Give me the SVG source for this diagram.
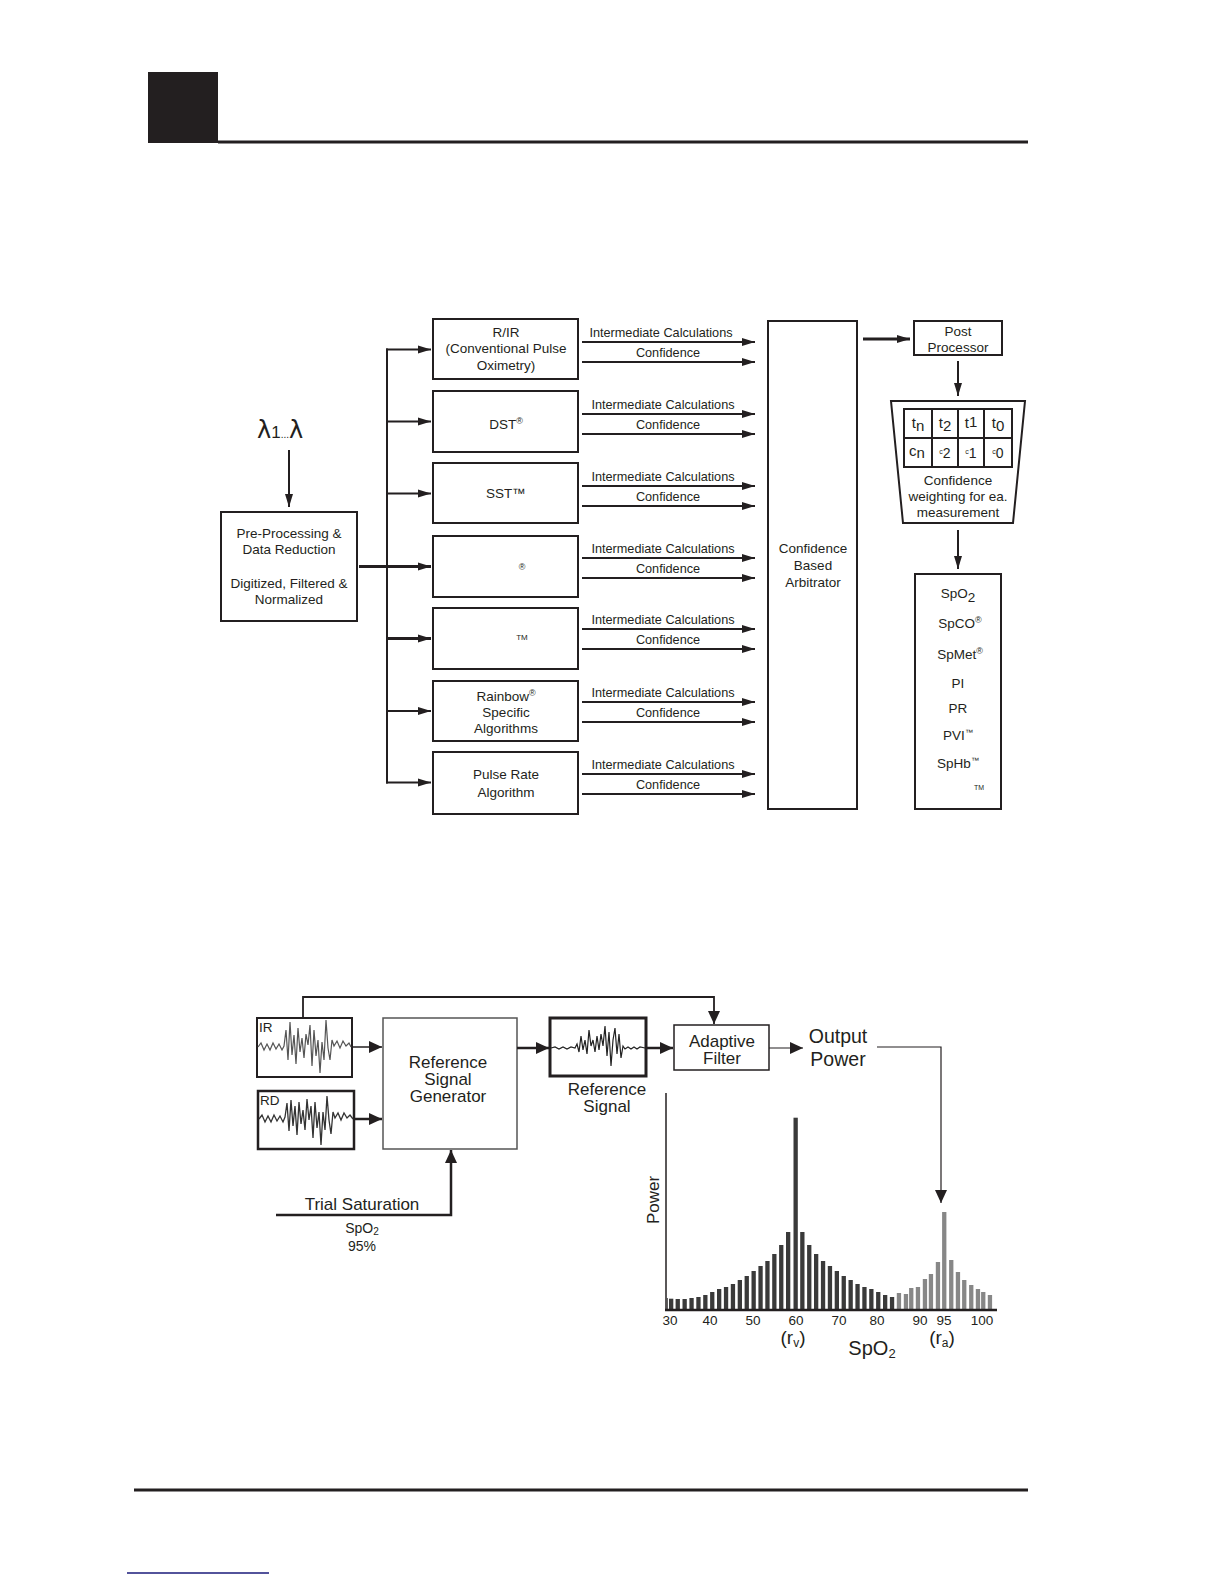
<svg xmlns="http://www.w3.org/2000/svg" width="1224" height="1584" viewBox="0 0 1224 1584">
<style>
text{font-family:"Liberation Sans",Arial,sans-serif;fill:#231f20}
.t{font-size:13.5px;text-anchor:middle}
.s{font-size:12.7px;text-anchor:middle}
.b{font-size:17px;text-anchor:middle}
.ax{font-size:13.5px;text-anchor:middle}
.box{fill:#fff;stroke:#231f20;stroke-width:2}
.ln{fill:none;stroke:#231f20;stroke-width:2}
.thk{fill:none;stroke:#231f20;stroke-width:3}
.dk{fill:#3a3a3a}
.lt{fill:#878787}
.wv{fill:none;stroke:#555;stroke-width:1.2}
</style>
<defs>
<marker id="ah" markerUnits="userSpaceOnUse" markerWidth="14" markerHeight="10" refX="13" refY="5" orient="auto"><path d="M0,1 L13,5 L0,9 z" fill="#231f20"/></marker>
<marker id="ab" markerUnits="userSpaceOnUse" markerWidth="14" markerHeight="12" refX="13" refY="6" orient="auto"><path d="M0,0 L13,6 L0,12 z" fill="#231f20"/></marker>
</defs>

<!-- page header/footer -->
<g id="page">
<rect x="148" y="72" width="70" height="71" fill="#231f20"/>
<line x1="218" y1="142" x2="1028" y2="142" stroke="#231f20" stroke-width="3"/>
<line x1="134" y1="1490" x2="1028" y2="1490" stroke="#231f20" stroke-width="3"/>
<line x1="127" y1="1573" x2="269" y2="1573" stroke="#1a1a7a" stroke-width="1.5"/>
</g>

<!-- ===== Top diagram nodes ===== -->
<g id="lambda"><text x="257" y="438" style="font-size:24px;font-family:'DejaVu Sans',sans-serif">λ<tspan style="font-size:17px;font-family:'Liberation Sans',sans-serif">1</tspan><tspan style="font-size:10px;font-family:'Liberation Sans',sans-serif">...</tspan>λ</text></g>

<g id="preproc">
<rect class="box" x="221" y="512" width="136" height="109"/>
<text class="t" x="289" y="538">Pre-Processing &amp;</text>
<text class="t" x="289" y="554">Data Reduction</text>
<text class="t" x="289" y="588">Digitized, Filtered &amp;</text>
<text class="t" x="289" y="604">Normalized</text>
</g>

<g id="rir">
<rect class="box" x="433" y="319" width="145" height="60"/>
<text class="t" x="506" y="337">R/IR</text>
<text class="t" x="506" y="353">(Conventional Pulse</text>
<text class="t" x="506" y="370">Oximetry)</text>
</g>
<g id="dst">
<rect class="box" x="433" y="391" width="145" height="61"/>
<text class="t" x="506" y="429">DST<tspan style="font-size:9px" dy="-5">®</tspan></text>
</g>
<g id="sst">
<rect class="box" x="433" y="463" width="145" height="60"/>
<text class="t" x="506" y="498">SST™</text>
</g>
<g id="alg4">
<rect class="box" x="433" y="536" width="145" height="61"/>
<text x="522" y="570" style="font-size:9px;text-anchor:middle">®</text>
</g>
<g id="alg5">
<rect class="box" x="433" y="608" width="145" height="61"/>
<text x="522" y="640" style="font-size:8px;text-anchor:middle">TM</text>
</g>
<g id="rainbow">
<rect class="box" x="433" y="681" width="145" height="60"/>
<text class="t" x="506" y="701">Rainbow<tspan style="font-size:9px" dy="-5">®</tspan></text>
<text class="t" x="506" y="717">Specific</text>
<text class="t" x="506" y="733">Algorithms</text>
</g>
<g id="pulserate">
<rect class="box" x="433" y="752" width="145" height="62"/>
<text class="t" x="506" y="779">Pulse Rate</text>
<text class="t" x="506" y="797">Algorithm</text>
</g>

<g id="arbitrator">
<rect class="box" x="768" y="321" width="89" height="488"/>
<text class="t" x="813" y="553">Confidence</text>
<text class="t" x="813" y="570">Based</text>
<text class="t" x="813" y="587">Arbitrator</text>
</g>

<g id="postproc">
<rect class="box" x="914" y="321" width="88" height="34"/>
<text class="t" x="958" y="336">Post</text>
<text class="t" x="958" y="352">Processor</text>
</g>

<g id="weighting">
<path d="M891,401 L1025,401 L1013,523 L903,523 Z" class="box"/>
<rect x="904" y="409" width="108" height="58" fill="none" stroke="#231f20" stroke-width="2"/>
<line x1="932" y1="409" x2="932" y2="467" class="ln"/>
<line x1="958" y1="409" x2="958" y2="467" class="ln"/>
<line x1="984" y1="409" x2="984" y2="467" class="ln"/>
<line x1="904" y1="438" x2="1012" y2="438" class="ln"/>
<text x="918" y="428" style="font-size:15px;text-anchor:middle">t<tspan dy="3">n</tspan></text>
<text x="945" y="428" style="font-size:15px;text-anchor:middle">t<tspan dy="3">2</tspan></text>
<text x="971" y="428" style="font-size:15px;text-anchor:middle">t<tspan dy="-1">1</tspan></text>
<text x="998" y="428" style="font-size:15px;text-anchor:middle">t<tspan dy="3">0</tspan></text>
<text x="917" y="456" style="font-size:15px;text-anchor:middle">c<tspan dy="2">n</tspan></text>
<text x="945" y="458" style="font-size:14px;text-anchor:middle"><tspan style="font-size:7px" dy="-4">c</tspan><tspan dy="4">2</tspan></text>
<text x="971" y="458" style="font-size:14px;text-anchor:middle"><tspan style="font-size:7px" dy="-4">c</tspan><tspan dy="4">1</tspan></text>
<text x="998" y="458" style="font-size:14px;text-anchor:middle"><tspan style="font-size:7px" dy="-4">c</tspan><tspan dy="4">0</tspan></text>
<text class="t" x="958" y="485">Confidence</text>
<text class="t" x="958" y="501">weighting for ea.</text>
<text class="t" x="958" y="517">measurement</text>
</g>

<g id="outputs">
<rect class="box" x="915" y="574" width="86" height="235"/>
<text class="t" x="958" y="598">SpO<tspan dy="4">2</tspan></text>
<text class="t" x="960" y="628">SpCO<tspan style="font-size:9px" dy="-5">®</tspan></text>
<text class="t" x="960" y="659">SpMet<tspan style="font-size:9px" dy="-5">®</tspan></text>
<text class="t" x="958" y="688">PI</text>
<text class="t" x="958" y="713">PR</text>
<text class="t" x="958" y="740">PVI<tspan style="font-size:8px" dy="-5">™</tspan></text>
<text class="t" x="958" y="768">SpHb<tspan style="font-size:8px" dy="-5">™</tspan></text>
<text x="979" y="790" style="font-size:7px;text-anchor:middle">TM</text>
</g>

<!-- ===== Top connectors ===== -->
<g id="connectors-top">
<line x1="289" y1="450" x2="289" y2="507" class="ln" marker-end="url(#ah)"/>
<line x1="359" y1="566.5" x2="431" y2="566.5" class="thk" marker-end="url(#ah)"/>
<line x1="387" y1="348.5" x2="387" y2="783.5" class="ln"/>
<line x1="386" y1="349.5" x2="431" y2="349.5" class="ln" marker-end="url(#ah)"/>
<line x1="387" y1="421.5" x2="431" y2="421.5" class="ln" marker-end="url(#ah)"/>
<line x1="387" y1="493.5" x2="431" y2="493.5" class="ln" marker-end="url(#ah)"/>
<line x1="387" y1="638.5" x2="431" y2="638.5" class="thk" marker-end="url(#ah)"/>
<line x1="387" y1="711" x2="431" y2="711" class="ln" marker-end="url(#ah)"/>
<line x1="386" y1="782.5" x2="431" y2="782.5" class="ln" marker-end="url(#ah)"/>

<g class="rows">
<line x1="582" y1="342" x2="755" y2="342" class="ln" marker-end="url(#ah)"/>
<line x1="582" y1="362" x2="755" y2="362" class="ln" marker-end="url(#ah)"/>
<line x1="582" y1="414" x2="755" y2="414" class="ln" marker-end="url(#ah)"/>
<line x1="582" y1="434" x2="755" y2="434" class="ln" marker-end="url(#ah)"/>
<line x1="582" y1="486" x2="755" y2="486" class="ln" marker-end="url(#ah)"/>
<line x1="582" y1="506" x2="755" y2="506" class="ln" marker-end="url(#ah)"/>
<line x1="582" y1="558" x2="755" y2="558" class="ln" marker-end="url(#ah)"/>
<line x1="582" y1="578" x2="755" y2="578" class="ln" marker-end="url(#ah)"/>
<line x1="582" y1="629" x2="755" y2="629" class="ln" marker-end="url(#ah)"/>
<line x1="582" y1="649" x2="755" y2="649" class="ln" marker-end="url(#ah)"/>
<line x1="582" y1="702" x2="755" y2="702" class="ln" marker-end="url(#ah)"/>
<line x1="582" y1="722" x2="755" y2="722" class="ln" marker-end="url(#ah)"/>
<line x1="582" y1="774" x2="755" y2="774" class="ln" marker-end="url(#ah)"/>
<line x1="582" y1="794" x2="755" y2="794" class="ln" marker-end="url(#ah)"/>
</g>
<g class="rowlabels">
<text class="s" x="661" y="337">Intermediate Calculations</text>
<text class="s" x="668" y="357">Confidence</text>
<text class="s" x="663" y="409">Intermediate Calculations</text>
<text class="s" x="668" y="429">Confidence</text>
<text class="s" x="663" y="481">Intermediate Calculations</text>
<text class="s" x="668" y="501">Confidence</text>
<text class="s" x="663" y="553">Intermediate Calculations</text>
<text class="s" x="668" y="573">Confidence</text>
<text class="s" x="663" y="624">Intermediate Calculations</text>
<text class="s" x="668" y="644">Confidence</text>
<text class="s" x="663" y="697">Intermediate Calculations</text>
<text class="s" x="668" y="717">Confidence</text>
<text class="s" x="663" y="769">Intermediate Calculations</text>
<text class="s" x="668" y="789">Confidence</text>
</g>
<line x1="863" y1="339" x2="910" y2="339" class="thk" marker-end="url(#ah)"/>
<line x1="958" y1="361" x2="958" y2="396" class="ln" marker-end="url(#ah)"/>
<line x1="958" y1="530" x2="958" y2="569" class="ln" marker-end="url(#ah)"/>
</g>

<!-- ===== Bottom diagram nodes ===== -->
<g id="ir">
<rect x="257" y="1018" width="95" height="59" fill="#fff" stroke="#231f20" stroke-width="2"/>
<polyline class="wv" points="258,1047 261,1043 264,1050 267,1044 270,1050 273,1043 276,1049 279,1044 282,1050 284,1046 286,1030 288,1060 290,1022 292,1055 294,1035 296,1064 298,1028 300,1052 302,1038 304,1058 306,1034 308,1045 310,1025 312,1066 314,1030 316,1056 318,1040 320,1073 322,1042 324,1060 326,1020 328,1048 330,1060 332,1040 334,1046 337,1041 340,1048 343,1041 346,1046 349,1043 351,1047"/>
<text x="259" y="1032" style="font-size:13.5px">IR</text>
</g>
<g id="rd">
<rect x="258" y="1091" width="96" height="58" fill="#fff" stroke="#231f20" stroke-width="2.5"/>
<polyline points="259,1119 262,1115 265,1122 268,1116 271,1122 274,1115 277,1121 280,1116 283,1122 285,1117 287,1103 289,1131 291,1100 293,1126 295,1106 297,1135 299,1102 301,1124 303,1110 305,1130 307,1099 309,1120 311,1106 313,1138 315,1102 317,1128 319,1112 321,1145 323,1112 325,1130 327,1096 329,1120 331,1134 333,1112 335,1118 338,1113 341,1120 344,1113 347,1118 350,1115 353,1119" fill="none" stroke="#333" stroke-width="1.3"/>
<text x="260" y="1105" style="font-size:13.5px">RD</text>
</g>
<g id="refgen">
<rect x="383" y="1018" width="134" height="131" fill="#fff" stroke="#555" stroke-width="1.5"/>
<text class="b" x="448" y="1068">Reference</text>
<text class="b" x="448" y="1085">Signal</text>
<text class="b" x="448" y="1102">Generator</text>
</g>
<g id="refsignal">
<rect x="550" y="1018" width="96" height="58" fill="#fff" stroke="#231f20" stroke-width="3"/>
<polyline points="551,1048 555,1047 559,1049 563,1047 567,1049 571,1047 575,1048 577,1044 579,1052 581,1036 583,1050 585,1040 587,1054 589,1030 591,1046 593,1040 595,1052 597,1036 599,1050 601,1034 603,1046 605,1026 607,1056 609,1032 611,1066 613,1040 615,1028 617,1054 619,1034 621,1058 623,1046 625,1049 628,1047 631,1049 634,1047 637,1049 640,1047 645,1048" fill="none" stroke="#222" stroke-width="1.2"/>
<text class="b" x="607" y="1095">Reference</text>
<text class="b" x="607" y="1112">Signal</text>
</g>
<g id="adaptive">
<rect x="674" y="1025" width="95" height="45" fill="#fff" stroke="#231f20" stroke-width="1.5"/>
<text class="b" x="722" y="1047">Adaptive</text>
<text class="b" x="722" y="1064">Filter</text>
</g>
<g id="outputpower">
<text x="838" y="1043" style="font-size:19.5px;text-anchor:middle">Output</text>
<text x="838" y="1066" style="font-size:19.5px;text-anchor:middle">Power</text>
</g>
<g id="trial">
<text class="b" x="362" y="1210">Trial Saturation</text>
<text x="362" y="1233" style="font-size:14px;text-anchor:middle">SpO<tspan style="font-size:10px" dy="2">2</tspan></text>
<text x="362" y="1251" style="font-size:14px;text-anchor:middle">95%</text>
</g>

<!-- ===== Histogram ===== -->
<g id="histogram">
<line x1="666" y1="1093" x2="666" y2="1310" stroke="#231f20" stroke-width="1.5"/>
<line x1="667.3" y1="1298" x2="667.3" y2="1309" stroke="#3a3a3a" stroke-width="1"/>
<g class="dk">
<rect x="669" y="1298.7" width="4.3" height="10.3"/>
<rect x="675.6" y="1299" width="4.3" height="10"/>
<rect x="682.5" y="1299" width="4.3" height="10"/>
<rect x="689.4" y="1298" width="4.3" height="11"/>
<rect x="696.3" y="1297" width="4.3" height="12"/>
<rect x="703.2" y="1295" width="4.3" height="14"/>
<rect x="710.1" y="1292" width="4.3" height="17"/>
<rect x="717" y="1289" width="4.3" height="20"/>
<rect x="723.9" y="1287" width="4.3" height="22"/>
<rect x="730.8" y="1284" width="4.3" height="25"/>
<rect x="737.7" y="1280" width="4.3" height="29"/>
<rect x="744.6" y="1276" width="4.3" height="33"/>
<rect x="751.5" y="1271" width="4.3" height="38"/>
<rect x="758.4" y="1266" width="4.3" height="43"/>
<rect x="765.3" y="1261" width="4.3" height="48"/>
<rect x="772.2" y="1254" width="4.3" height="55"/>
<rect x="779.1" y="1245" width="4.3" height="64"/>
<rect x="786" y="1232" width="4.3" height="77"/>
<rect x="793.5" y="1117.7" width="4.3" height="191.3"/>
<rect x="800.2" y="1232" width="4.3" height="77"/>
<rect x="807.1" y="1245" width="4.3" height="64"/>
<rect x="814" y="1254" width="4.3" height="55"/>
<rect x="820.9" y="1261" width="4.3" height="48"/>
<rect x="827.8" y="1266" width="4.3" height="43"/>
<rect x="834.7" y="1271" width="4.3" height="38"/>
<rect x="841.6" y="1276" width="4.3" height="33"/>
<rect x="848.5" y="1280" width="4.3" height="29"/>
<rect x="855.4" y="1284" width="4.3" height="25"/>
<rect x="862.3" y="1287" width="4.3" height="22"/>
<rect x="869.2" y="1289" width="4.3" height="20"/>
<rect x="876.1" y="1292" width="4.3" height="17"/>
<rect x="883" y="1295" width="4.3" height="14"/>
<rect x="889.9" y="1297" width="4.3" height="12"/>
</g>
<g class="lt">
<rect x="896.8" y="1293" width="4.3" height="16"/>
<rect x="903.8" y="1294" width="4.3" height="15"/>
<rect x="909.1" y="1288" width="4.3" height="21"/>
<rect x="915.8" y="1287" width="4.3" height="22"/>
<rect x="922.8" y="1279" width="4.3" height="30"/>
<rect x="928.8" y="1274" width="4.3" height="35"/>
<rect x="935.8" y="1262" width="4.3" height="47"/>
<rect x="942.1" y="1212" width="4.3" height="97"/>
<rect x="949.1" y="1260" width="4.3" height="49"/>
<rect x="955.8" y="1272" width="4.3" height="37"/>
<rect x="962.1" y="1280" width="4.3" height="29"/>
<rect x="969.1" y="1285" width="4.3" height="24"/>
<rect x="975.8" y="1289" width="4.3" height="20"/>
<rect x="981.1" y="1292" width="4.3" height="17"/>
<rect x="987.8" y="1295" width="4.3" height="14"/>
</g>
<line x1="665" y1="1310" x2="997" y2="1310" stroke="#231f20" stroke-width="2.5"/>
<text class="ax" x="670" y="1325">30</text>
<text class="ax" x="710" y="1325">40</text>
<text class="ax" x="753" y="1325">50</text>
<text class="ax" x="796" y="1325">60</text>
<text class="ax" x="839" y="1325">70</text>
<text class="ax" x="877" y="1325">80</text>
<text class="ax" x="920" y="1325">90</text>
<text class="ax" x="944" y="1325">95</text>
<text class="ax" x="982" y="1325">100</text>
<text x="793" y="1344" style="font-size:19px;text-anchor:middle">(r<tspan style="font-size:12px" dy="3">v</tspan><tspan dy="-3">)</tspan></text>
<text x="942" y="1344" style="font-size:19px;text-anchor:middle">(r<tspan style="font-size:12px" dy="3">a</tspan><tspan dy="-3">)</tspan></text>
<text x="872" y="1355" style="font-size:20px;text-anchor:middle">SpO<tspan style="font-size:13px" dy="3">2</tspan></text>
<text transform="translate(653,1200) rotate(-90)" x="0" y="6" style="font-size:17px;text-anchor:middle">Power</text>
</g>

<!-- ===== Bottom connectors ===== -->
<g id="connectors-bottom">
<polyline points="303,1018 303,997 714,997 714,1024" fill="none" stroke="#231f20" stroke-width="1.8" marker-end="url(#ab)"/>
<line x1="352" y1="1047" x2="382" y2="1047" stroke="#231f20" stroke-width="1.5" marker-end="url(#ab)"/>
<line x1="354" y1="1119" x2="382" y2="1119" stroke="#231f20" stroke-width="2.5" marker-end="url(#ab)"/>
<line x1="517" y1="1048" x2="549" y2="1048" stroke="#231f20" stroke-width="2.5" marker-end="url(#ab)"/>
<line x1="646" y1="1048" x2="673" y2="1048" stroke="#231f20" stroke-width="2.5" marker-end="url(#ab)"/>
<line x1="769" y1="1048" x2="803" y2="1048" stroke="#231f20" stroke-width="1.2" marker-end="url(#ab)"/>
<polyline points="877,1047 941,1047 941,1203" fill="none" stroke="#231f20" stroke-width="1.2" marker-end="url(#ab)"/>
<polyline points="276,1215 451,1215 451,1150" fill="none" stroke="#231f20" stroke-width="2.5" marker-end="url(#ab)"/>
</g>
</svg>
